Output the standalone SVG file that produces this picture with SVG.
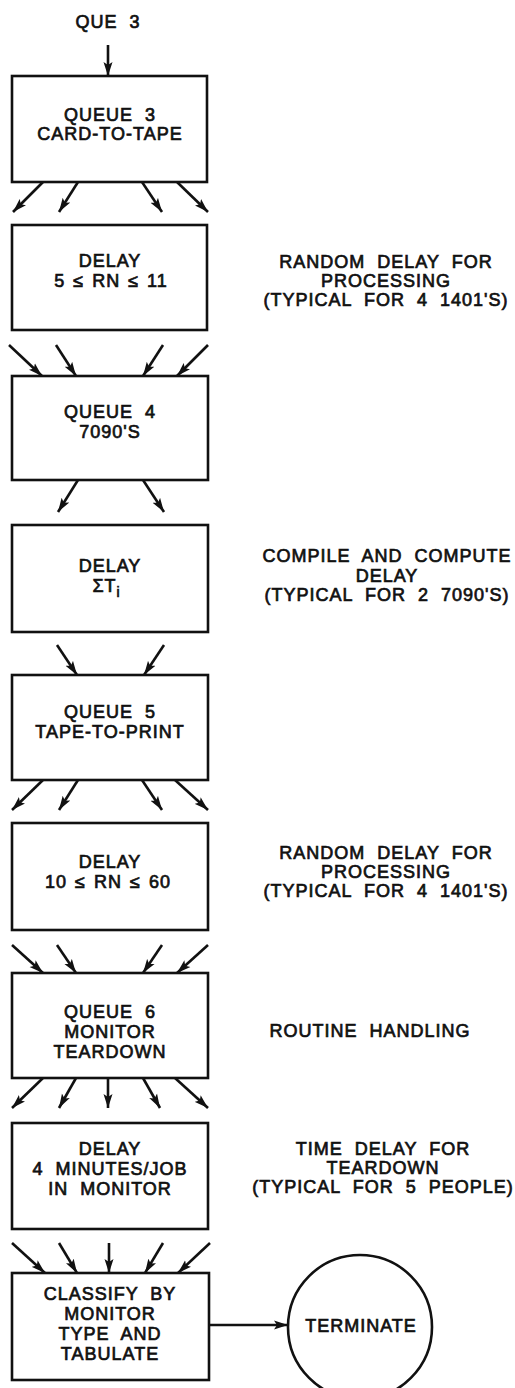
<svg xmlns="http://www.w3.org/2000/svg" width="515" height="1388" viewBox="0 0 515 1388">
  <style>
    text { font-family: "Liberation Sans", Arial, sans-serif; font-size: 18px; fill: #111; stroke: #111; stroke-width: 0.7px; letter-spacing: 1px; word-spacing: 6px; text-anchor: middle; }
    .tight { word-spacing: 2px; }
    .box { fill: #fff; stroke: #111; stroke-width: 2.6; }
    .flow { stroke: #111; stroke-width: 2.6; fill: none; marker-end: url(#head); }
    .sub { font-size: 14px; letter-spacing: 0; }
  </style>
  <defs>
    <marker id="head" markerUnits="userSpaceOnUse" markerWidth="15" markerHeight="10" refX="14" refY="5" orient="auto">
      <path d="M0,0.5 L14,5 L0,9.5 L3,5 Z" fill="#111"/>
    </marker>
  </defs>
  <rect width="515" height="1388" fill="#fff"/>

  <!-- entry label -->
  <g id="entry">
    <text x="108" y="28">QUE 3</text>
  </g>

  <!-- connectors -->
  <g id="connectors">
    <line class="flow" x1="108" y1="45" x2="108" y2="76"/>
    <!-- queue 3 to delay -->
    <line class="flow" x1="43" y1="182" x2="13" y2="212"/>
    <line class="flow" x1="78" y1="182" x2="59" y2="212"/>
    <line class="flow" x1="142" y1="182" x2="162" y2="212"/>
    <line class="flow" x1="177" y1="182" x2="208" y2="212"/>
    <!-- delay to queue 4 -->
    <line class="flow" x1="9" y1="345" x2="42" y2="376"/>
    <line class="flow" x1="56" y1="345" x2="76" y2="376"/>
    <line class="flow" x1="163" y1="345" x2="143" y2="376"/>
    <line class="flow" x1="208" y1="345" x2="177" y2="376"/>
    <!-- queue 4 to compute delay -->
    <line class="flow" x1="78" y1="480" x2="58" y2="512"/>
    <line class="flow" x1="143" y1="480" x2="164" y2="512"/>
    <!-- compute delay to queue 5 -->
    <line class="flow" x1="57" y1="645" x2="77" y2="675"/>
    <line class="flow" x1="164" y1="645" x2="144" y2="675"/>
    <!-- queue 5 to delay -->
    <line class="flow" x1="43" y1="780" x2="12" y2="810"/>
    <line class="flow" x1="78" y1="780" x2="59" y2="810"/>
    <line class="flow" x1="142" y1="780" x2="162" y2="810"/>
    <line class="flow" x1="175" y1="780" x2="208" y2="810"/>
    <!-- delay to queue 6 -->
    <line class="flow" x1="12" y1="945" x2="43" y2="973"/>
    <line class="flow" x1="57" y1="945" x2="76" y2="973"/>
    <line class="flow" x1="162" y1="945" x2="143" y2="973"/>
    <line class="flow" x1="208" y1="945" x2="177" y2="973"/>
    <!-- queue 6 to teardown delay -->
    <line class="flow" x1="43" y1="1078" x2="12" y2="1108"/>
    <line class="flow" x1="76" y1="1078" x2="59" y2="1108"/>
    <line class="flow" x1="108" y1="1078" x2="108" y2="1108"/>
    <line class="flow" x1="143" y1="1078" x2="160" y2="1108"/>
    <line class="flow" x1="175" y1="1078" x2="208" y2="1108"/>
    <!-- teardown delay to classify -->
    <line class="flow" x1="12" y1="1243" x2="45" y2="1273"/>
    <line class="flow" x1="59" y1="1243" x2="77" y2="1273"/>
    <line class="flow" x1="109" y1="1243" x2="109" y2="1273"/>
    <line class="flow" x1="163" y1="1243" x2="145" y2="1273"/>
    <line class="flow" x1="210" y1="1243" x2="178" y2="1273"/>
    <!-- classify to terminate -->
    <line class="flow" x1="209" y1="1325" x2="288" y2="1325"/>
  </g>

  <g id="queue3">
    <rect class="box" x="12" y="76" width="195" height="106"/>
    <text x="110" y="121">QUEUE 3</text>
    <text x="110" y="140">CARD-TO-TAPE</text>
  </g>

  <g id="delay1">
    <rect class="box" x="12" y="225" width="195" height="105"/>
    <text x="110" y="267">DELAY</text>
    <text class="tight" x="111" y="287">5 ≤ RN ≤ 11</text>
  </g>
  <g id="note1">
    <text x="386" y="268">RANDOM DELAY FOR</text>
    <text x="386" y="287">PROCESSING</text>
    <text x="386" y="306">(TYPICAL FOR 4 1401'S)</text>
  </g>

  <g id="queue4">
    <rect class="box" x="12" y="376" width="196" height="104"/>
    <text x="110" y="418">QUEUE 4</text>
    <text x="110" y="438">7090'S</text>
  </g>

  <g id="delay2">
    <rect class="box" x="12" y="525" width="196" height="107"/>
    <text x="110" y="572">DELAY</text>
    <text x="106" y="592">ΣT<tspan class="sub" dy="5">i</tspan></text>
  </g>
  <g id="note2">
    <text x="387" y="562">COMPILE AND COMPUTE</text>
    <text x="387" y="582">DELAY</text>
    <text x="387" y="601">(TYPICAL FOR 2 7090'S)</text>
  </g>

  <g id="queue5">
    <rect class="box" x="12" y="675" width="196" height="105"/>
    <text x="110" y="718">QUEUE 5</text>
    <text x="110" y="738">TAPE-TO-PRINT</text>
  </g>

  <g id="delay3">
    <rect class="box" x="12" y="823" width="196" height="107"/>
    <text x="110" y="868">DELAY</text>
    <text class="tight" x="108" y="888">10 ≤ RN ≤ 60</text>
  </g>
  <g id="note3">
    <text x="386" y="859">RANDOM DELAY FOR</text>
    <text x="386" y="878">PROCESSING</text>
    <text x="386" y="897">(TYPICAL FOR 4 1401'S)</text>
  </g>

  <g id="queue6">
    <rect class="box" x="12" y="973" width="196" height="105"/>
    <text x="110" y="1018">QUEUE 6</text>
    <text x="110" y="1038">MONITOR</text>
    <text x="110" y="1058">TEARDOWN</text>
  </g>
  <g id="note4">
    <text x="370" y="1037">ROUTINE HANDLING</text>
  </g>

  <g id="delay4">
    <rect class="box" x="12" y="1123" width="196" height="106"/>
    <text x="110" y="1155">DELAY</text>
    <text x="110" y="1175">4 MINUTES/JOB</text>
    <text x="110" y="1195">IN MONITOR</text>
  </g>
  <g id="note5">
    <text x="383" y="1155">TIME DELAY FOR</text>
    <text x="383" y="1174">TEARDOWN</text>
    <text x="383" y="1193">(TYPICAL FOR 5 PEOPLE)</text>
  </g>

  <g id="classify">
    <rect class="box" x="12" y="1273" width="197" height="107"/>
    <text x="110" y="1300">CLASSIFY BY</text>
    <text x="110" y="1320">MONITOR</text>
    <text x="110" y="1340">TYPE AND</text>
    <text x="110" y="1360">TABULATE</text>
  </g>

  <g id="terminate">
    <circle cx="360" cy="1327" r="72" fill="#fff" stroke="#111" stroke-width="2.6"/>
    <text x="361" y="1332">TERMINATE</text>
  </g>
</svg>
